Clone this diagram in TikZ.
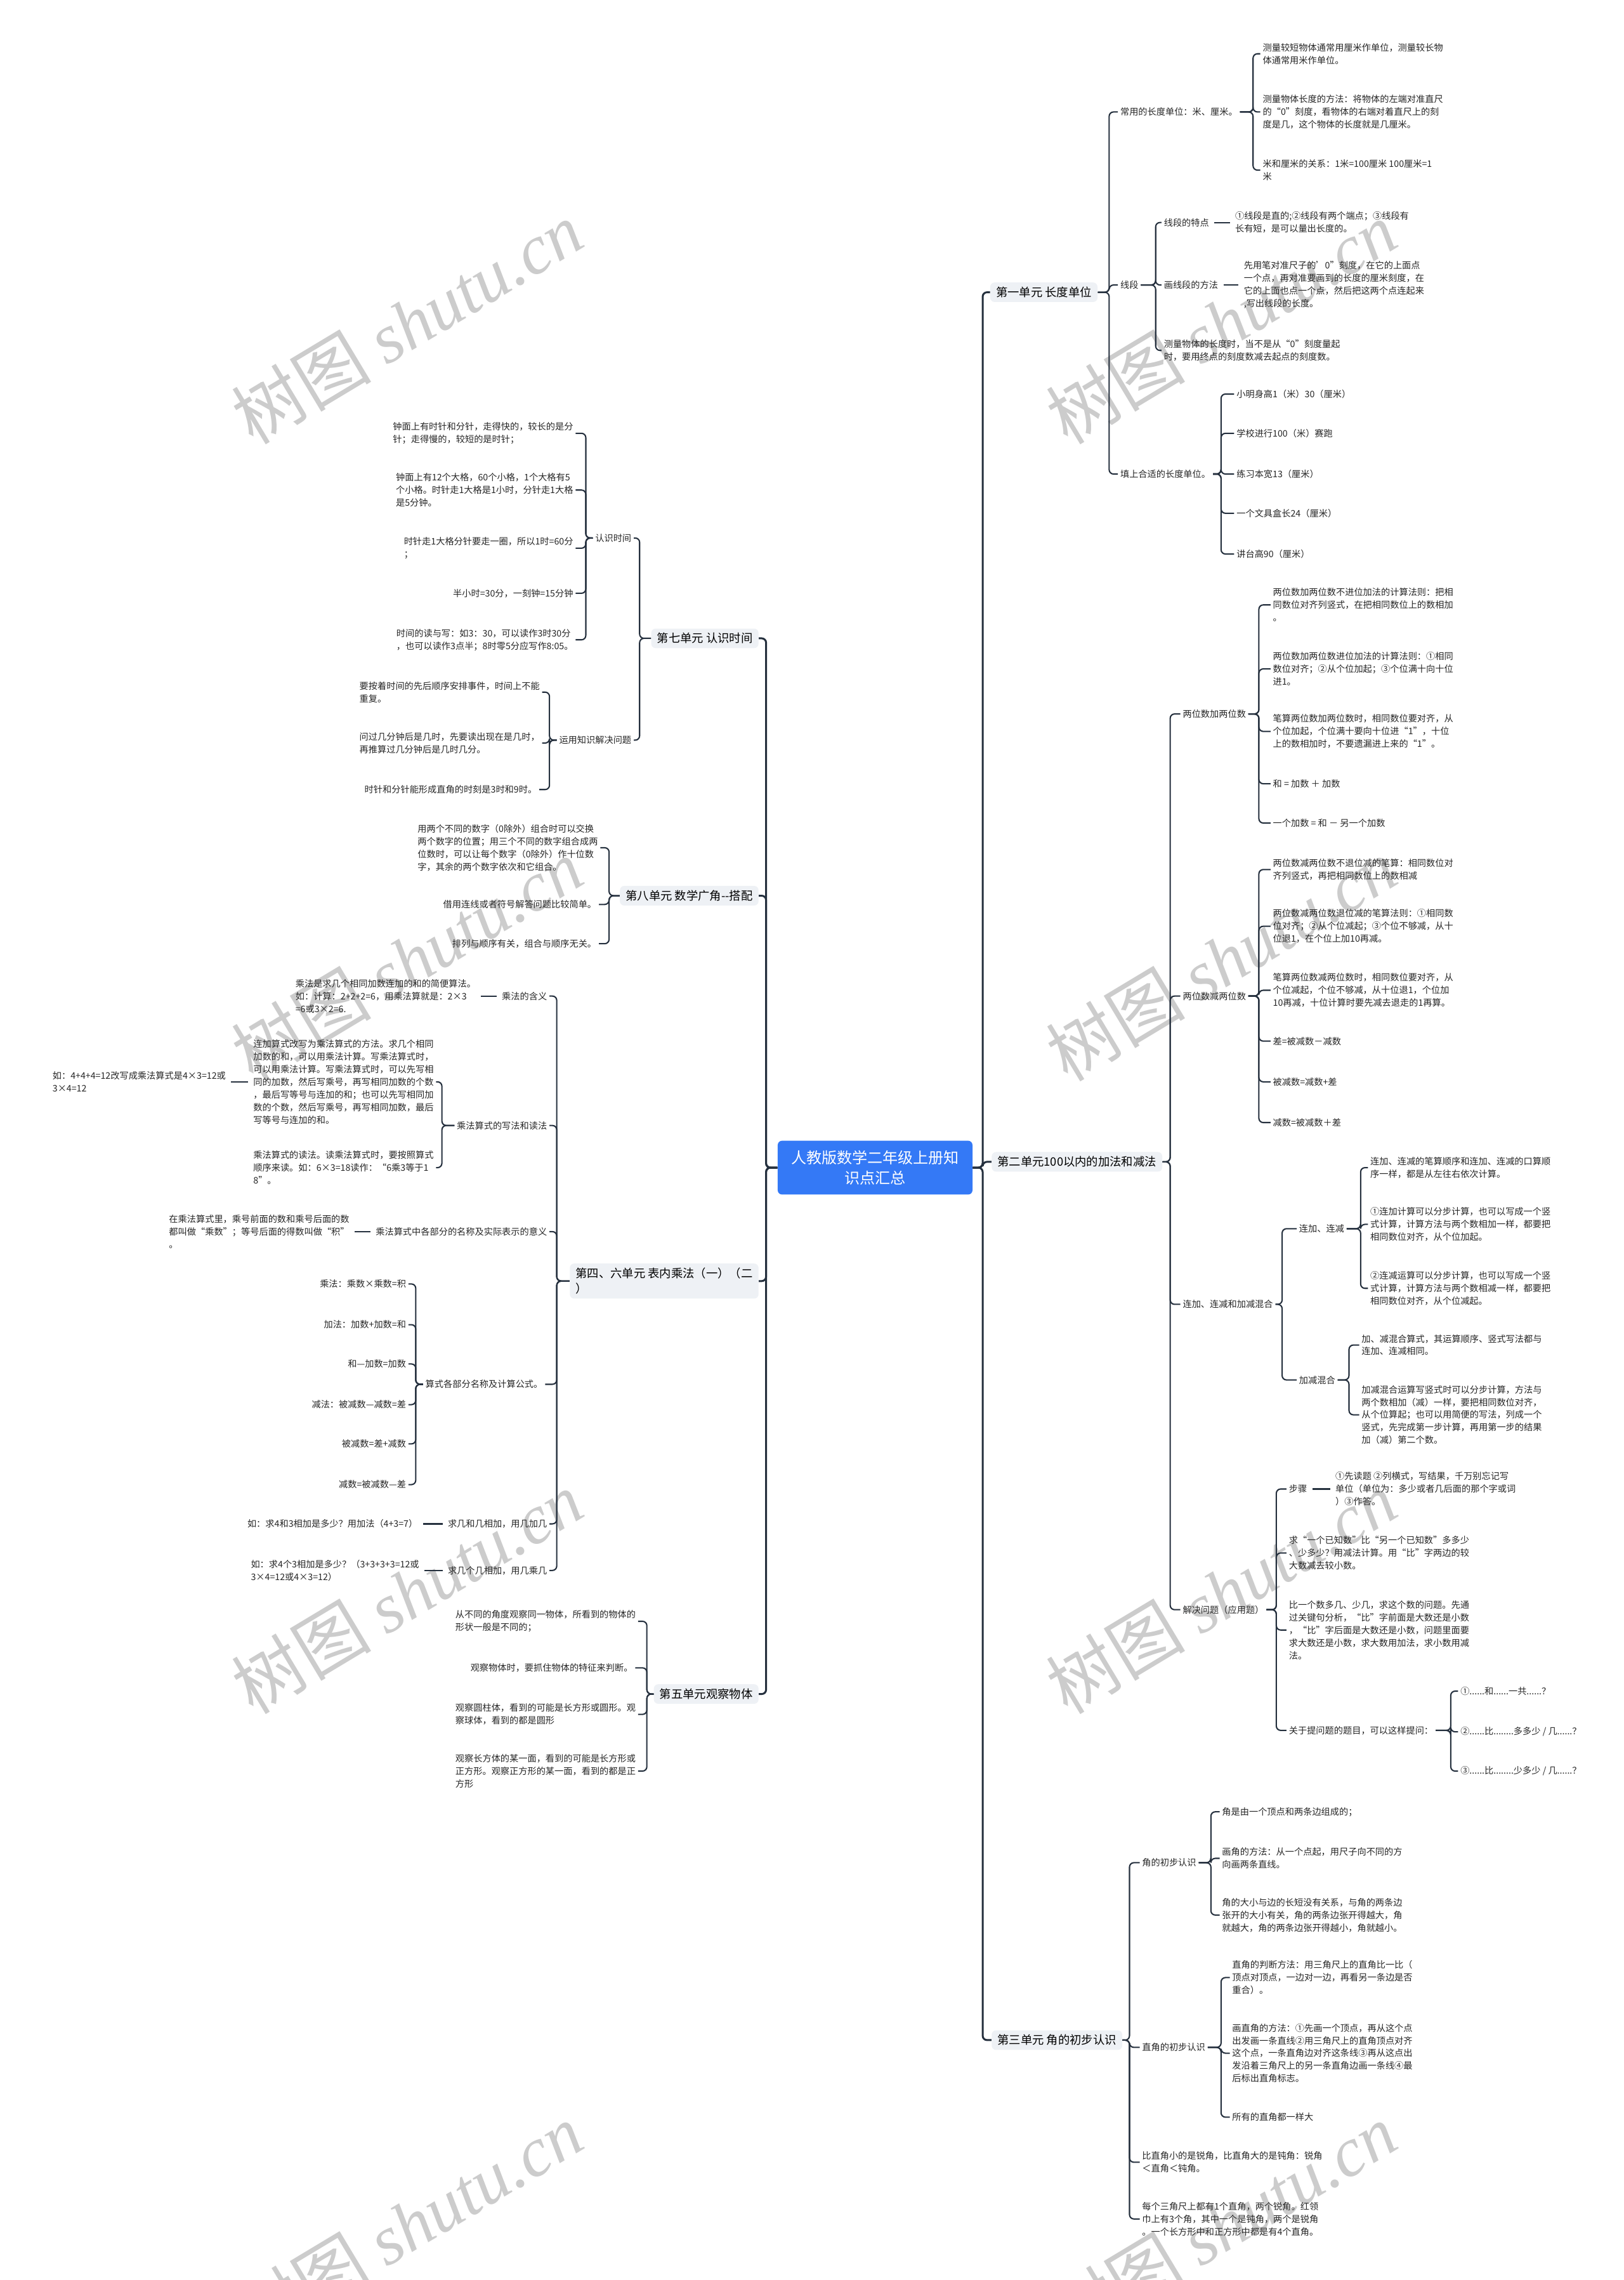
\documentclass[tikz,border=0pt]{standalone}
\usepackage{fontspec}
\setmainfont{Noto Sans CJK SC}
\newfontfamily\wmfont{Liberation Serif}
\definecolor{rootblue}{HTML}{3479F6}
\definecolor{unitgray}{HTML}{EEF1F5}
\definecolor{linkc}{HTML}{25303E}

\begin{document}
\begin{tikzpicture}[x=1pt,y=-1pt,
  rootbox/.style={fill=rootblue,text=white,rounded corners=3pt,align=center,minimum width=134pt,minimum height=37pt,font=\fontsize{10.5}{14}\selectfont},
  unitbox/.style={fill=unitgray,rounded corners=3pt,inner xsep=4pt,inner ysep=3pt,align=left,font=\fontsize{8}{10.5}\selectfont},
  leaf/.style={inner xsep=1.5pt,inner ysep=1pt,align=left,text=black!85,font=\fontsize{6.2}{8.7}\selectfont},
  link/.style={draw=linkc,line width=0.9pt,rounded corners=3pt},
  trunk/.style={link,line width=1.3pt},
  stub/.style={link,shorten <=2pt,shorten >=2pt},
  wmark/.style={text=black!20,rotate=31,font=\fontsize{48}{48}\selectfont}]
\fill[white] (0,0) rectangle (1117,1568);
\useasboundingbox (0,0) rectangle (1117,1568);

\node[wmark] (wm1) at (280,222) {树图 {\wmfont\itshape shutu.cn}};
\node[wmark] (wm2) at (840,222) {树图 {\wmfont\itshape shutu.cn}};
\node[wmark] (wm3) at (280,660) {树图 {\wmfont\itshape shutu.cn}};
\node[wmark] (wm4) at (840,660) {树图 {\wmfont\itshape shutu.cn}};
\node[wmark] (wm5) at (280,1095) {树图 {\wmfont\itshape shutu.cn}};
\node[wmark] (wm6) at (840,1095) {树图 {\wmfont\itshape shutu.cn}};
\node[wmark] (wm7) at (280,1530) {树图 {\wmfont\itshape shutu.cn}};
\node[wmark] (wm8) at (840,1530) {树图 {\wmfont\itshape shutu.cn}};

\node[rootbox] (r) at (602,803) {人教版数学二年级上册知\\识点汇总};

\node[unitbox,anchor=west] (u1) at (681,201) {第一单元 长度单位};
\node[leaf,anchor=west] (u1a) at (769,77) {常用的长度单位：米、厘米。};
\node[leaf,anchor=west] (u1a1) at (867,37) {测量较短物体通常用厘米作单位，测量较长物\\体通常用米作单位。};
\node[leaf,anchor=west] (u1a2) at (867,77) {测量物体长度的方法：将物体的左端对准直尺\\的“0”刻度，看物体的右端对着直尺上的刻\\度是几，这个物体的长度就是几厘米。};
\node[leaf,anchor=west] (u1a3) at (867,117) {米和厘米的关系：1米=100厘米 100厘米=1\\米};
\node[leaf,anchor=west] (u1b) at (769,196) {线段};
\node[leaf,anchor=west] (u1b1) at (799,153) {线段的特点};
\node[leaf,anchor=west] (u1b1x) at (848,153) {①线段是直的;②线段有两个端点；③线段有\\长有短，是可以量出长度的。};
\node[leaf,anchor=west] (u1b2) at (799,196) {画线段的方法};
\node[leaf,anchor=west] (u1b2x) at (854,196) {先用笔对准尺子的’0”刻度，在它的上面点\\一个点，再对准要画到的长度的厘米刻度，在\\它的上面也点一个点，然后把这两个点连起来\\,写出线段的长度。};
\node[leaf,anchor=west] (u1b3) at (799,241) {测量物体的长度时，当不是从“0”刻度量起\\时，要用终点的刻度数减去起点的刻度数。};
\node[leaf,anchor=west] (u1c) at (769,326) {填上合适的长度单位。};
\node[leaf,anchor=west] (u1c1) at (849,271) {小明身高1（米）30（厘米）};
\node[leaf,anchor=west] (u1c2) at (849,298) {学校进行100（米）赛跑};
\node[leaf,anchor=west] (u1c3) at (849,326) {练习本宽13（厘米）};
\node[leaf,anchor=west] (u1c4) at (849,353) {一个文具盒长24（厘米）};
\node[leaf,anchor=west] (u1c5) at (849,381) {讲台高90（厘米）};

\node[unitbox,anchor=west] (u2) at (682,799) {第二单元100以内的加法和减法};
\node[leaf,anchor=west] (u2a) at (812,491) {两位数加两位数};
\node[leaf,anchor=west] (u2a1) at (874,416) {两位数加两位数不进位加法的计算法则：把相\\同数位对齐列竖式，在把相同数位上的数相加\\。};
\node[leaf,anchor=west] (u2a2) at (874,460) {两位数加两位数进位加法的计算法则：①相同\\数位对齐；②从个位加起；③个位满十向十位\\进1。};
\node[leaf,anchor=west] (u2a3) at (874,503) {笔算两位数加两位数时，相同数位要对齐，从\\个位加起，个位满十要向十位进“1”，十位\\上的数相加时，不要遗漏进上来的“1”。};
\node[leaf,anchor=west] (u2a4) at (874,539) {和 = 加数 ＋ 加数};
\node[leaf,anchor=west] (u2a5) at (874,566) {一个加数 = 和 － 另一个加数};
\node[leaf,anchor=west] (u2b) at (812,685) {两位数减两位数};
\node[leaf,anchor=west] (u2b1) at (874,598) {两位数减两位数不退位减的笔算：相同数位对\\齐列竖式，再把相同数位上的数相减};
\node[leaf,anchor=west] (u2b2) at (874,637) {两位数减两位数退位减的笔算法则：①相同数\\位对齐；②从个位减起；③个位不够减，从十\\位退1，在个位上加10再减。};
\node[leaf,anchor=west] (u2b3) at (874,681) {笔算两位数减两位数时，相同数位要对齐，从\\个位减起，个位不够减，从十位退1，个位加\\10再减，十位计算时要先减去退走的1再算。};
\node[leaf,anchor=west] (u2b4) at (874,716) {差=被减数－减数};
\node[leaf,anchor=west] (u2b5) at (874,744) {被减数=减数+差};
\node[leaf,anchor=west] (u2b6) at (874,772) {减数=被减数＋差};
\node[leaf,anchor=west] (u2c) at (812,897) {连加、连减和加减混合};
\node[leaf,anchor=west] (u2c1) at (892,845) {连加、连减};
\node[leaf,anchor=west] (u2c1a) at (941,803) {连加、连减的笔算顺序和连加、连减的口算顺\\序一样，都是从左往右依次计算。};
\node[leaf,anchor=west] (u2c1b) at (941,842) {①连加计算可以分步计算，也可以写成一个竖\\式计算，计算方法与两个数相加一样，都要把\\相同数位对齐，从个位加起。};
\node[leaf,anchor=west] (u2c1c) at (941,886) {②连减运算可以分步计算，也可以写成一个竖\\式计算，计算方法与两个数相减一样，都要把\\相同数位对齐，从个位减起。};
\node[leaf,anchor=west] (u2c2) at (892,949) {加减混合};
\node[leaf,anchor=west] (u2c2a) at (935,925) {加、减混合算式，其运算顺序、竖式写法都与\\连加、连减相同。};
\node[leaf,anchor=west] (u2c2b) at (935,973) {加减混合运算写竖式时可以分步计算，方法与\\两个数相加（减）一样，要把相同数位对齐，\\从个位算起；也可以用简便的写法，列成一个\\竖式，先完成第一步计算，再用第一步的结果\\加（减）第二个数。};
\node[leaf,anchor=west] (u2d) at (812,1107) {解决问题（应用题）};
\node[leaf,anchor=west] (u2d1) at (885,1024) {步骤};
\node[leaf,anchor=west] (u2d1x) at (917,1024) {①先读题 ②列横式，写结果，千万别忘记写\\单位（单位为：多少或者几后面的那个字或词\\）③作答。};
\node[leaf,anchor=west] (u2d2) at (885,1068) {求“一个已知数”比“另一个已知数”多多少\\、少多少？用减法计算。用“比”字两边的较\\大数减去较小数。};
\node[leaf,anchor=west] (u2d3) at (885,1121) {比一个数多几、少几，求这个数的问题。先通\\过关键句分析，“比”字前面是大数还是小数\\，“比”字后面是大数还是小数，问题里面要\\求大数还是小数，求大数用加法，求小数用减\\法。};
\node[leaf,anchor=west] (u2d4) at (885,1190) {关于提问题的题目，可以这样提问：};
\node[leaf,anchor=west] (u2d4a) at (1003,1163) {①......和......一共......？};
\node[leaf,anchor=west] (u2d4b) at (1003,1191) {②......比........多多少 / 几......？};
\node[leaf,anchor=west] (u2d4c) at (1003,1218) {③......比........少多少 / 几......？};

\node[unitbox,anchor=west] (u3) at (682,1403) {第三单元 角的初步认识};
\node[leaf,anchor=west] (u3a) at (784,1281) {角的初步认识};
\node[leaf,anchor=west] (u3a1) at (839,1246) {角是由一个顶点和两条边组成的；};
\node[leaf,anchor=west] (u3a2) at (839,1278) {画角的方法：从一个点起，用尺子向不同的方\\向画两条直线。};
\node[leaf,anchor=west] (u3a3) at (839,1317) {角的大小与边的长短没有关系，与角的两条边\\张开的大小有关，角的两条边张开得越大，角\\就越大，角的两条边张开得越小，角就越小。};
\node[leaf,anchor=west] (u3b) at (784,1408) {直角的初步认识};
\node[leaf,anchor=west] (u3b1) at (846,1360) {直角的判断方法：用三角尺上的直角比一比（\\顶点对顶点，一边对一边，再看另一条边是否\\重合）。};
\node[leaf,anchor=west] (u3b2) at (846,1412) {画直角的方法：①先画一个顶点，再从这个点\\出发画一条直线②用三角尺上的直角顶点对齐\\这个点，一条直角边对齐这条线③再从这点出\\发沿着三角尺上的另一条直角边画一条线④最\\后标出直角标志。};
\node[leaf,anchor=west] (u3b3) at (846,1456) {所有的直角都一样大};
\node[leaf,anchor=west] (u3c) at (784,1487) {比直角小的是锐角，比直角大的是钝角：锐角\\＜直角＜钝角。};
\node[leaf,anchor=west] (u3d) at (784,1526) {每个三角尺上都有1个直角，两个锐角。红领\\巾上有3个角，其中一个是钝角，两个是锐角\\。一个长方形中和正方形中都是有4个直角。};

\node[unitbox,anchor=east] (u7) at (522,439) {第七单元 认识时间};
\node[leaf,anchor=east] (u7a) at (436,370) {认识时间};
\node[leaf,anchor=east] (u7a1) at (396,298) {钟面上有时针和分针，走得快的，较长的是分\\针；走得慢的，较短的是时针；};
\node[leaf,anchor=east] (u7a2) at (396,337) {钟面上有12个大格，60个小格，1个大格有5\\个小格。时针走1大格是1小时，分针走1大格\\是5分钟。};
\node[leaf,anchor=east] (u7a3) at (396,377) {时针走1大格分针要走一圈，所以1时=60分\\；};
\node[leaf,anchor=east] (u7a4) at (396,408) {半小时=30分，一刻钟=15分钟};
\node[leaf,anchor=east] (u7a5) at (396,440) {时间的读与写：如3：30，可以读作3时30分\\，也可以读作3点半；8时零5分应写作8:05。};
\node[leaf,anchor=east] (u7b) at (436,509) {运用知识解决问题};
\node[leaf,anchor=east] (u7b1) at (373,476) {要按着时间的先后顺序安排事件，时间上不能\\重复。};
\node[leaf,anchor=east] (u7b2) at (373,511) {问过几分钟后是几时，先要读出现在是几时，\\再推算过几分钟后是几时几分。};
\node[leaf,anchor=east] (u7b3) at (371,543) {时针和分针能形成直角的时刻是3时和9时。};

\node[unitbox,anchor=east] (u8) at (522,616) {第八单元 数学广角-{}-搭配};
\node[leaf,anchor=east] (u8a) at (413,583) {用两个不同的数字（0除外）组合时可以交换\\两个数字的位置；用三个不同的数字组合成两\\位数时，可以让每个数字（0除外）作十位数\\字，其余的两个数字依次和它组合。};
\node[leaf,anchor=east] (u8b) at (412,622) {借用连线或者符号解答问题比较简单。};
\node[leaf,anchor=east] (u8c) at (412,649) {排列与顺序有关，组合与顺序无关。};

\node[unitbox,anchor=east] (u4) at (522,881) {第四、六单元 表内乘法（一）（二\\）};
\node[leaf,anchor=east] (u4a) at (378,685) {乘法的含义};
\node[leaf,anchor=east] (u4ax) at (329,685) {乘法是求几个相同加数连加的和的简便算法。\\如：计算：2+2+2=6，用乘法算就是：2×3\\=6或3×2=6.};
\node[leaf,anchor=east] (u4b) at (378,774) {乘法算式的写法和读法};
\node[leaf,anchor=east] (u4b1) at (300,744) {连加算式改写为乘法算式的方法。求几个相同\\加数的和，可以用乘法计算。写乘法算式时，\\可以用乘法计算。写乘法算式时，可以先写相\\同的加数，然后写乘号，再写相同加数的个数\\，最后写等号与连加的和；也可以先写相同加\\数的个数，然后写乘号，再写相同加数，最后\\写等号与连加的和。};
\node[leaf,anchor=east] (u4b1x) at (157,744) {如：4+4+4=12改写成乘法算式是4×3=12或\\3×4=12};
\node[leaf,anchor=east] (u4b2) at (300,803) {乘法算式的读法。读乘法算式时，要按照算式\\顺序来读。如：6×3=18读作：“6乘3等于1\\8”。};
\node[leaf,anchor=east] (u4c) at (378,847) {乘法算式中各部分的名称及实际表示的意义};
\node[leaf,anchor=east] (u4cx) at (242,847) {在乘法算式里，乘号前面的数和乘号后面的数\\都叫做“乘数”；等号后面的得数叫做“积”\\。};
\node[leaf,anchor=east] (u4d) at (375,952) {算式各部分名称及计算公式。};
\node[leaf,anchor=east] (u4d1) at (281,883) {乘法：乘数×乘数=积};
\node[leaf,anchor=east] (u4d2) at (281,911) {加法：加数+加数=和};
\node[leaf,anchor=east] (u4d3) at (281,938) {和—加数=加数};
\node[leaf,anchor=east] (u4d4) at (281,966) {减法：被减数—减数=差};
\node[leaf,anchor=east] (u4d5) at (281,993) {被减数=差+减数};
\node[leaf,anchor=east] (u4d6) at (281,1021) {减数=被减数—差};
\node[leaf,anchor=east] (u4e) at (378,1048) {求几和几相加，用几加几};
\node[leaf,anchor=east] (u4ex) at (289,1048) {如：求4和3相加是多少？用加法（4+3=7）};
\node[leaf,anchor=east] (u4f) at (378,1080) {求几个几相加，用几乘几};
\node[leaf,anchor=east] (u4fx) at (290,1080) {如：求4个3相加是多少？（3+3+3+3=12或\\3×4=12或4×3=12）};

\node[unitbox,anchor=east] (u5) at (522,1165) {第五单元观察物体};
\node[leaf,anchor=east] (u5a) at (439,1115) {从不同的角度观察同一物体，所看到的物体的\\形状一般是不同的；};
\node[leaf,anchor=east] (u5b) at (437,1147) {观察物体时，要抓住物体的特征来判断。};
\node[leaf,anchor=east] (u5c) at (439,1179) {观察圆柱体，看到的可能是长方形或圆形。观\\察球体，看到的都是圆形};
\node[leaf,anchor=east] (u5d) at (439,1218) {观察长方体的某一面，看到的可能是长方形或\\正方形。观察正方形的某一面，看到的都是正\\方形};

\coordinate (sr) at (676,0);
\coordinate (sl) at (527,0);
\draw[trunk] (r.east) -- (r.east -| sr) |- (u1.west);
\draw[trunk] (r.east) -- (r.east -| sr) |- (u2.west);
\draw[trunk] (r.east) -- (r.east -| sr) |- (u3.west);
\draw[trunk] (r.west) -- (r.west -| sl) |- (u7.east);
\draw[trunk] (r.west) -- (r.west -| sl) |- (u8.east);
\draw[trunk] (r.west) -- (r.west -| sl) |- (u4.east);
\draw[trunk] (r.west) -- (r.west -| sl) |- (u5.east);

\coordinate (s1) at (763,0);
\draw[link] (u1.east) -- (u1.east -| s1) |- (u1a.west);
\draw[link] (u1.east) -- (u1.east -| s1) |- (u1b.west);
\draw[link] (u1.east) -- (u1.east -| s1) |- (u1c.west);
\coordinate (s1a) at (862,0);
\draw[link] (u1a.east) -- (u1a.east -| s1a) |- (u1a1.west);
\draw[link] (u1a.east) -- (u1a.east -| s1a) |- (u1a2.west);
\draw[link] (u1a.east) -- (u1a.east -| s1a) |- (u1a3.west);
\coordinate (s1b) at (795,0);
\draw[link] (u1b.east) -- (u1b.east -| s1b) |- (u1b1.west);
\draw[link] (u1b.east) -- (u1b.east -| s1b) |- (u1b2.west);
\draw[link] (u1b.east) -- (u1b.east -| s1b) |- (u1b3.west);
\draw[stub] (u1b1.east) -- (u1b1x.west);
\draw[stub] (u1b2.east) -- (u1b2x.west);
\coordinate (s1c) at (840,0);
\draw[link] (u1c.east) -- (u1c.east -| s1c) |- (u1c1.west);
\draw[link] (u1c.east) -- (u1c.east -| s1c) |- (u1c2.west);
\draw[link] (u1c.east) -- (u1c.east -| s1c) |- (u1c3.west);
\draw[link] (u1c.east) -- (u1c.east -| s1c) |- (u1c4.west);
\draw[link] (u1c.east) -- (u1c.east -| s1c) |- (u1c5.west);

\coordinate (s2) at (805,0);
\draw[link] (u2.east) -- (u2.east -| s2) |- (u2a.west);
\draw[link] (u2.east) -- (u2.east -| s2) |- (u2b.west);
\draw[link] (u2.east) -- (u2.east -| s2) |- (u2c.west);
\draw[link] (u2.east) -- (u2.east -| s2) |- (u2d.west);
\coordinate (s2a) at (866,0);
\draw[link] (u2a.east) -- (u2a.east -| s2a) |- (u2a1.west);
\draw[link] (u2a.east) -- (u2a.east -| s2a) |- (u2a2.west);
\draw[link] (u2a.east) -- (u2a.east -| s2a) |- (u2a3.west);
\draw[link] (u2a.east) -- (u2a.east -| s2a) |- (u2a4.west);
\draw[link] (u2a.east) -- (u2a.east -| s2a) |- (u2a5.west);
\coordinate (s2b) at (866,0);
\draw[link] (u2b.east) -- (u2b.east -| s2b) |- (u2b1.west);
\draw[link] (u2b.east) -- (u2b.east -| s2b) |- (u2b2.west);
\draw[link] (u2b.east) -- (u2b.east -| s2b) |- (u2b3.west);
\draw[link] (u2b.east) -- (u2b.east -| s2b) |- (u2b4.west);
\draw[link] (u2b.east) -- (u2b.east -| s2b) |- (u2b5.west);
\draw[link] (u2b.east) -- (u2b.east -| s2b) |- (u2b6.west);
\coordinate (s2c) at (882,0);
\draw[link] (u2c.east) -- (u2c.east -| s2c) |- (u2c1.west);
\draw[link] (u2c.east) -- (u2c.east -| s2c) |- (u2c2.west);
\coordinate (s2c1) at (936,0);
\draw[link] (u2c1.east) -- (u2c1.east -| s2c1) |- (u2c1a.west);
\draw[link] (u2c1.east) -- (u2c1.east -| s2c1) |- (u2c1b.west);
\draw[link] (u2c1.east) -- (u2c1.east -| s2c1) |- (u2c1c.west);
\coordinate (s2c2) at (928,0);
\draw[link] (u2c2.east) -- (u2c2.east -| s2c2) |- (u2c2a.west);
\draw[link] (u2c2.east) -- (u2c2.east -| s2c2) |- (u2c2b.west);
\coordinate (s2d) at (878,0);
\draw[link] (u2d.east) -- (u2d.east -| s2d) |- (u2d1.west);
\draw[link] (u2d.east) -- (u2d.east -| s2d) |- (u2d2.west);
\draw[link] (u2d.east) -- (u2d.east -| s2d) |- (u2d3.west);
\draw[link] (u2d.east) -- (u2d.east -| s2d) |- (u2d4.west);
\draw[stub] (u2d1.east) -- (u2d1x.west);
\coordinate (s2d4) at (998,0);
\draw[link] (u2d4.east) -- (u2d4.east -| s2d4) |- (u2d4a.west);
\draw[link] (u2d4.east) -- (u2d4.east -| s2d4) |- (u2d4b.west);
\draw[link] (u2d4.east) -- (u2d4.east -| s2d4) |- (u2d4c.west);

\coordinate (s3) at (777,0);
\draw[link] (u3.east) -- (u3.east -| s3) |- (u3a.west);
\draw[link] (u3.east) -- (u3.east -| s3) |- (u3b.west);
\draw[link] (u3.east) -- (u3.east -| s3) |- (u3c.west);
\draw[link] (u3.east) -- (u3.east -| s3) |- (u3d.west);
\coordinate (s3a) at (833,0);
\draw[link] (u3a.east) -- (u3a.east -| s3a) |- (u3a1.west);
\draw[link] (u3a.east) -- (u3a.east -| s3a) |- (u3a2.west);
\draw[link] (u3a.east) -- (u3a.east -| s3a) |- (u3a3.west);
\coordinate (s3b) at (840,0);
\draw[link] (u3b.east) -- (u3b.east -| s3b) |- (u3b1.west);
\draw[link] (u3b.east) -- (u3b.east -| s3b) |- (u3b2.west);
\draw[link] (u3b.east) -- (u3b.east -| s3b) |- (u3b3.west);

\coordinate (s7) at (440,0);
\draw[link] (u7.west) -- (u7.west -| s7) |- (u7a.east);
\draw[link] (u7.west) -- (u7.west -| s7) |- (u7b.east);
\coordinate (s7a) at (403,0);
\draw[link] (u7a.west) -- (u7a.west -| s7a) |- (u7a1.east);
\draw[link] (u7a.west) -- (u7a.west -| s7a) |- (u7a2.east);
\draw[link] (u7a.west) -- (u7a.west -| s7a) |- (u7a3.east);
\draw[link] (u7a.west) -- (u7a.west -| s7a) |- (u7a4.east);
\draw[link] (u7a.west) -- (u7a.west -| s7a) |- (u7a5.east);
\coordinate (s7b) at (378,0);
\draw[link] (u7b.west) -- (u7b.west -| s7b) |- (u7b1.east);
\draw[link] (u7b.west) -- (u7b.west -| s7b) |- (u7b2.east);
\draw[link] (u7b.west) -- (u7b.west -| s7b) |- (u7b3.east);

\coordinate (s8) at (419,0);
\draw[link] (u8.west) -- (u8.west -| s8) |- (u8a.east);
\draw[link] (u8.west) -- (u8.west -| s8) |- (u8b.east);
\draw[link] (u8.west) -- (u8.west -| s8) |- (u8c.east);

\coordinate (s4) at (383,0);
\draw[link] (u4.west) -- (u4.west -| s4) |- (u4a.east);
\draw[link] (u4.west) -- (u4.west -| s4) |- (u4b.east);
\draw[link] (u4.west) -- (u4.west -| s4) |- (u4c.east);
\draw[link] (u4.west) -- (u4.west -| s4) |- (u4d.east);
\draw[link] (u4.west) -- (u4.west -| s4) |- (u4e.east);
\draw[link] (u4.west) -- (u4.west -| s4) |- (u4f.east);
\draw[stub] (u4a.west) -- (u4ax.east);
\coordinate (s4b) at (304,0);
\draw[link] (u4b.west) -- (u4b.west -| s4b) |- (u4b1.east);
\draw[link] (u4b.west) -- (u4b.west -| s4b) |- (u4b2.east);
\draw[stub] (u4b1.west) -- (u4b1x.east);
\draw[stub] (u4c.west) -- (u4cx.east);
\coordinate (s4d) at (286,0);
\draw[link] (u4d.west) -- (u4d.west -| s4d) |- (u4d1.east);
\draw[link] (u4d.west) -- (u4d.west -| s4d) |- (u4d2.east);
\draw[link] (u4d.west) -- (u4d.west -| s4d) |- (u4d3.east);
\draw[link] (u4d.west) -- (u4d.west -| s4d) |- (u4d4.east);
\draw[link] (u4d.west) -- (u4d.west -| s4d) |- (u4d5.east);
\draw[link] (u4d.west) -- (u4d.west -| s4d) |- (u4d6.east);
\draw[stub] (u4e.west) -- (u4ex.east);
\draw[stub] (u4f.west) -- (u4fx.east);

\coordinate (s5) at (445,0);
\draw[link] (u5.west) -- (u5.west -| s5) |- (u5a.east);
\draw[link] (u5.west) -- (u5.west -| s5) |- (u5b.east);
\draw[link] (u5.west) -- (u5.west -| s5) |- (u5c.east);
\draw[link] (u5.west) -- (u5.west -| s5) |- (u5d.east);
\end{tikzpicture}
\end{document}
